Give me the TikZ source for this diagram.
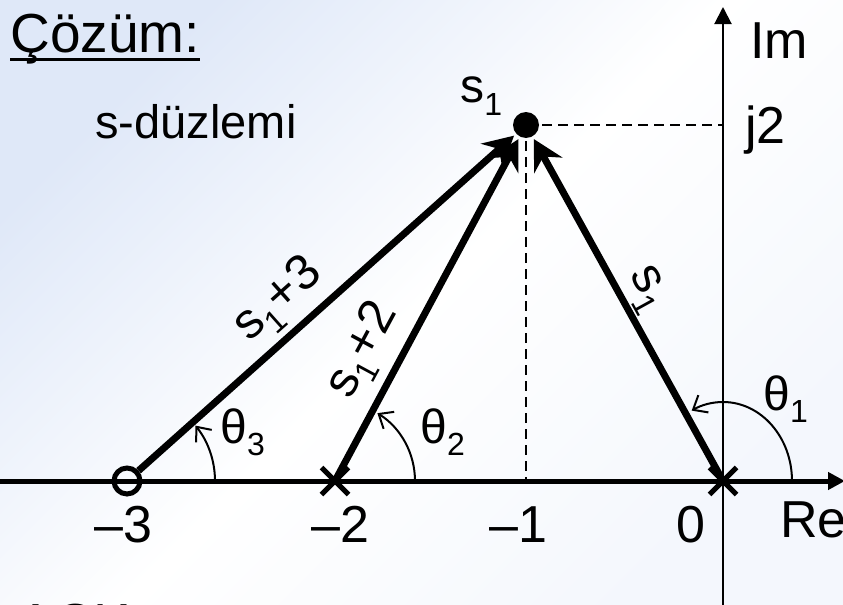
\documentclass[tikz,border=0pt]{standalone}
\usepackage{fontspec}
\setmainfont{Liberation Sans}
\usetikzlibrary{arrows.meta, shapes.misc}
\definecolor{bgblue}{HTML}{DFE8F8}
\newcommand{\tief}[1]{\raisebox{-6pt}{\fontsize{16pt}{18pt}\selectfont #1}}

\begin{document}
\begin{tikzpicture}[x=0.5pt, y=-0.5pt,
    vec/.style={line width=3.5pt, -{Stealth[length=15pt, width=16pt, inset=5pt]}},
    winkel/.style={line width=1pt, -{Straight Barb[length=6pt, width=10pt]}},
    hilf/.style={line width=1pt, dash pattern=on 5pt off 3pt},
    achse/.style={-{Triangle[length=8.5pt, width=8.5pt]}},
    pol/.style={cross out, draw, line width=2.5pt, minimum size=11pt, inner sep=0pt},
    nullst/.style={circle, draw, line width=2.5pt, minimum size=13pt, inner sep=0pt},
    txt/.style={inner sep=0pt, anchor=base west, font=\fontsize{24pt}{28pt}\selectfont},
    gross/.style={txt, font=\fontsize{26pt}{30pt}\selectfont},
    vlbl/.style={inner sep=0pt, font=\fontsize{25pt}{28pt}\selectfont}
]

  % Hintergrund
  \useasboundingbox (0,0) rectangle (843,605);
  \shade[top color=bgblue, bottom color=bgblue!35, middle color=white, shading angle=45] (0,0) rectangle (843,605);

  % Achsen
  \coordinate (rel) at (0,481);
  \coordinate (rer) at (845,481);
  \coordinate (imb) at (723,605);
  \coordinate (imt) at (723,7);
  \draw[achse, line width=1pt] (imb) -- (imt);
  \draw[achse, line width=2.5pt] (rel) -- (rer);

  % Pole, Nullstelle und Punkt s1
  \node[nullst] (z3) at (127,481) {};
  \node[pol] (p2) at (335,481) {};
  \node[pol] (p0) at (723,481) {};
  \node[circle, fill, minimum size=13pt, inner sep=0pt, outer sep=1.5pt] (s1) at (526,125) {};

  % Hilfslinien
  \draw[hilf] (s1) -- (s1 -| imt);
  \draw[hilf] (s1) -- (s1 |- rel);

  % Vektoren
  \draw[vec] (z3) -- (s1);
  \draw[vec] (p2.center) -- (s1);
  \draw[vec] (p0.center) -- (s1);

  % Winkel
  \draw[winkel] ([shift={(0:88)}]z3.center) arc[start angle=0, end angle=-39, radius=88];
  \draw[winkel] ([shift={(0:80)}]p2.center) arc[start angle=0, end angle=-58, radius=80];
  \draw[winkel] ([shift={(0:69)}]p0.center) arc[start angle=0, end angle=-117, x radius=69, y radius=79];
  \node[txt] (th3) at (220,443) {θ\tief{3}};
  \node[txt] (th2) at (420,443) {θ\tief{2}};
  \node[txt] (th1) at (763,410) {θ\tief{1}};

  % Beschriftung der Vektoren
  \node[vlbl, rotate=41.7] (l3) at (279,301) {s\tief{1}+3};
  \node[vlbl, rotate=61.7] (l2) at (364,351) {s\tief{1}+2};
  \node[vlbl, rotate=-61.2] (l1) at (646,290) {s\tief{1}};
  \node[txt] (s1lbl) at (460,103) {s\tief{1}};

  % Texte
  \node[txt, font=\fontsize{27.5pt}{32pt}\selectfont] (titel) at (10,53) {Çözüm:};
  \draw[line width=1.5pt] ([yshift=-3pt]titel.base west) -- ([yshift=-3pt]titel.base east);
  \node[txt, font=\fontsize{23.5pt}{28pt}\selectfont] (ebene) at (95,138) {s-düzlemi};
  \node[gross] (im) at (750,59) {Im};
  \node[gross] (j2) at (745,143) {j2};
  \node[gross] (re) at (780,537) {Re};
  \node[gross] (m3) at (94,542) {–3};
  \node[gross] (m2) at (311,542) {–2};
  \node[gross] (m1) at (489,542) {–1};
  \node[gross] (n0) at (676,542) {0};
  \node[txt, font=\fontsize{27.5pt}{32pt}\selectfont] (akk) at (17,642) {AÇK};

\end{tikzpicture}
\end{document}
